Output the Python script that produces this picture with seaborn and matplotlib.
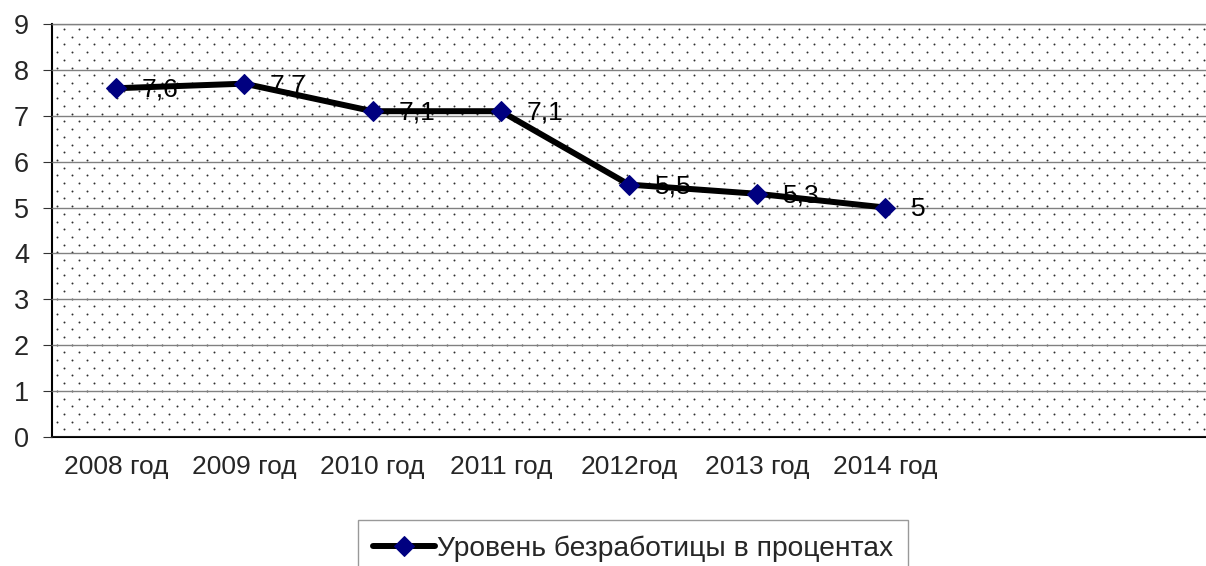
import matplotlib
matplotlib.use("Agg")
import matplotlib.pyplot as plt
import seaborn as sns
import numpy as np
import pandas as pd

years = ["2008 год", "2009 год", "2010 год", "2011 год", "2012год", "2013 год", "2014 год"]
rates = [7.6, 7.7, 7.1, 7.1, 5.5, 5.3, 5.0]
rate_labels = ["7,6", "7,7", "7,1", "7,1", "5,5", "5,3", "5"]
series_name = "Уровень безработицы в процентах"
n_slots = 9  # two empty category slots on the right

sns.set_theme(style="white")
plt.rcParams['font.family'] = ['Liberation Sans', 'DejaVu Sans']

df = pd.DataFrame({"year": years, "rate": rates})
df["pos"] = np.arange(len(years))

W, H = 1206, 566
left, top, bottom = 52, 24, 437
fig = plt.figure(figsize=(W / 100, H / 100), dpi=100)
ax = fig.add_axes([left / W, 1 - bottom / H, 1 - left / W, (bottom - top) / H])

# dotted background texture (staggered dots, in axes fraction)
aw, ah = W - left, bottom - top
rows = np.arange(5, ah, 7.7)
dx, dy = [], []
for i, r in enumerate(rows):
    start = 12 if i % 2 == 0 else 4.5
    cols = np.arange(start, aw, 15)
    dx.extend(cols / aw)
    dy.extend([1 - r / ah] * len(cols))
ax.scatter(dx, dy, s=2.0, color='#303030', linewidths=0, transform=ax.transAxes,
           zorder=0.5, clip_on=True)

sns.lineplot(data=df, x="pos", y="rate", ax=ax, color='black', linewidth=4.3,
             marker='D', markersize=10, markerfacecolor='#000080',
             markeredgecolor='#000080', label=series_name, zorder=3)

for x, y, t in zip(df["pos"], df["rate"], rate_labels):
    ax.annotate(t, (x, y), xytext=(18.5, -1), textcoords='offset points',
                ha='left', va='center', fontsize=19, color='black', zorder=4)

ax.set_xlim(-0.5, n_slots - 0.5)
ax.set_ylim(0, 9)
ax.set_yticks(range(0, 10))
ax.set_xticks(range(len(years)))
ax.set_xticklabels(years)
ax.set_xticks(np.arange(-0.5, n_slots, 1), minor=True)
ax.tick_params(axis='x', which='major', length=0, pad=13, labelsize=19)
ax.tick_params(axis='x', which='minor', length=7, width=0.8, color='#333333', direction='out')
ax.tick_params(axis='y', length=6.5, width=0.8, color='#333333', direction='out',
               pad=10, labelsize=19.5, left=True)
ax.set_xlabel("")
ax.set_ylabel("")
ax.grid(axis='y', color='#808080', linewidth=1)
ax.set_axisbelow(False)
for gl in ax.get_ygridlines():
    gl.set_zorder(1)

for side in ['left', 'bottom']:
    ax.spines[side].set_color('black')
    ax.spines[side].set_linewidth(1.5)
ax.spines['top'].set_color('#808080')
ax.spines['top'].set_linewidth(1)
ax.spines['right'].set_visible(False)

ax.get_legend().remove()
handles, labels = ax.get_legend_handles_labels()
leg = fig.legend(handles, labels, loc='upper center', bbox_to_anchor=(633 / W, 1 - 520 / H),
                 fontsize=20.3, frameon=True, fancybox=False, edgecolor='#808080',
                 handlelength=2.2, handletextpad=0.05, borderpad=0.55, borderaxespad=0,
                 numpoints=1)
leg.get_frame().set_linewidth(1)

fig.savefig("out.png", dpi=100)
